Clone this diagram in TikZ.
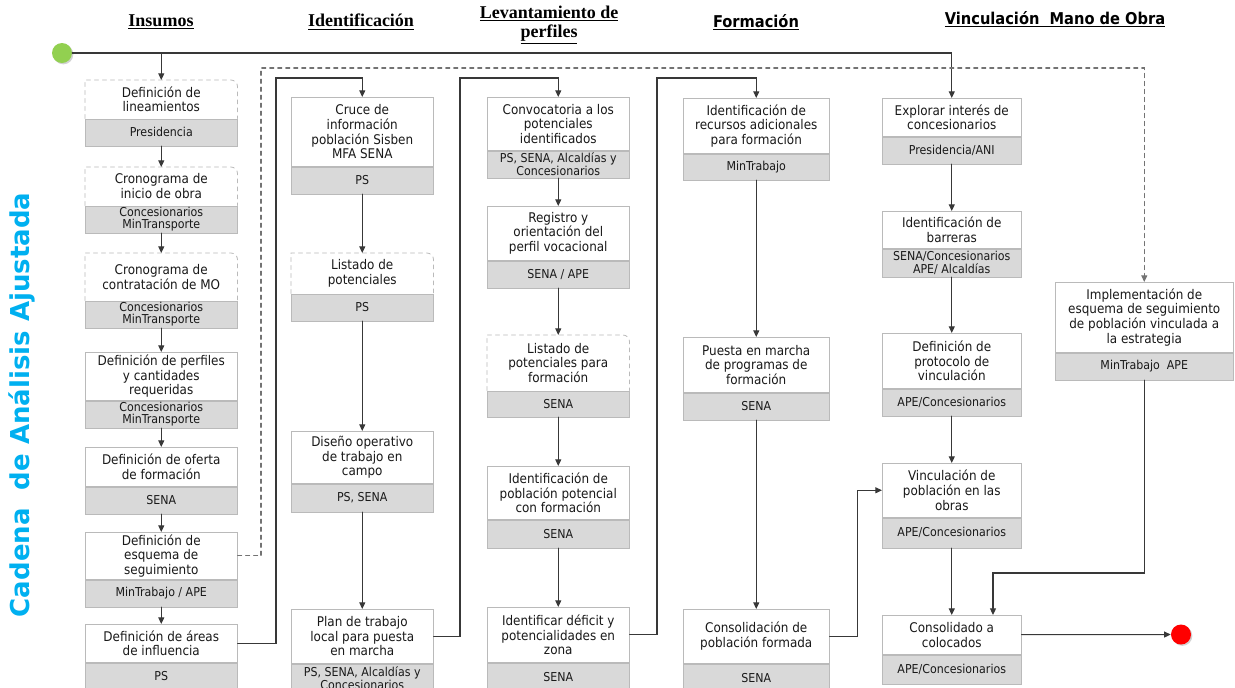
\documentclass[tikz,border=0pt]{standalone}
\usepackage{fontspec}
\setmainfont{DejaVu Sans Condensed}
\newfontfamily\titulofont{Liberation Serif}
\newfontfamily\anchafont{DejaVu Sans}
\usepackage{tikz}
\usetikzlibrary{arrows.meta}
\usetikzlibrary{shadows}
\newcommand{\pix}{0.75pt}
\definecolor{verdeinicio}{HTML}{92D050}
\definecolor{cian}{HTML}{00B0F0}

\begin{document}
\begin{tikzpicture}
	[x=0.75pt,y=-0.75pt,line cap=round,
	%Styles
	paso/.style 2 args={draw=bordegris,fill=white,anchor=north west,align=center,inner sep=1pt,
		text=textogris,minimum width=#1*\pix,minimum height=#2*\pix,font=\fontsize{10}{11}\selectfont},
	paso punteado/.style 2 args={paso={#1}{#2},draw=none},
	resp/.style 2 args={draw=bordegris,fill=respgris,anchor=north west,align=center,inner sep=1pt,
		text=textogris,minimum width=#1*\pix,minimum height=#2*\pix,font=\fontsize{9.2}{9.4}\selectfont},
	borde punteado/.style={draw=bordegris,dashed,line width=0.6pt},
	flecha/.style={draw=lineagris,line width=0.8pt,-{Triangle[length=5pt,width=4.5pt]}},
	flecha punteada/.style={flecha,draw=black!55,dashed},
	titulo/.style={align=center,font=\titulofont\bfseries\fontsize{13.5}{14}\selectfont},
	titulo sans/.style={align=center,font=\bfseries\fontsize{12.2}{13}\selectfont},
	punto/.style={circle,minimum size=15pt,inner sep=0pt,drop shadow={opacity=0.35,shadow xshift=1pt,shadow yshift=-1pt}}
	]

	%Colors
	\colorlet{bordegris}{black!27}
	\colorlet{respgris}{black!15}
	\colorlet{lineagris}{black!78}
	\colorlet{textogris}{black!90}

	\fill[white] (0,0) rectangle (1235,687);
	\useasboundingbox (0,0) rectangle (1235,687);

	%Titles
	\node[titulo] (tins) at (161,22) {\underline{Insumos}};
	\node[titulo] (tide) at (361,22) {\underline{Identificación}};
	\node[titulo] (tlev) at (549,25) {\underline{Levantamiento de}\\\underline{perfiles}};
	\node[titulo sans] (tfor) at (756,22) {\underline{Formación}};
	\node[titulo sans] (tvin) at (1055,19) {\underline{Vinculación\ \ Mano de Obra}};
	\node[rotate=90,text=cian,font=\anchafont\bfseries\fontsize{19.5}{19.5}\selectfont] (cadena) at (22,405) {Cadena\ \ de Análisis Ajustada};

	%Insumos
	\node[paso punteado={152}{38}] (lin) at (85,80) {Definición de\\lineamientos};
	\node[resp={152}{27}] (lin-r) at (lin.south west) {Presidencia};
	\node[paso punteado={152}{38}] (cio) at (85,167) {Cronograma de\\inicio de obra};
	\node[resp={152}{27}] (cio-r) at (cio.south west) {Concesionarios\\MinTransporte};
	\node[paso punteado={152}{47}] (ccm) at (85,253) {Cronograma de\\contratación de MO};
	\node[resp={152}{26}] (ccm-r) at (ccm.south west) {Concesionarios\\MinTransporte};
	\node[paso={152}{48}] (dpc) at (85,352) {Definición de perfiles\\y cantidades\\requeridas};
	\node[resp={152}{27}] (dpc-r) at (dpc.south west) {Concesionarios\\MinTransporte};
	\node[paso={152}{39}] (dof) at (85,447) {Definición de oferta\\de formación};
	\node[resp={152}{27}] (dof-r) at (dof.south west) {SENA};
	\node[paso={152}{47}] (des) at (85,532) {Definición de\\esquema de\\seguimiento};
	\node[resp={152}{27}] (des-r) at (des.south west) {MinTrabajo / APE};
	\node[paso={152}{38}] (dai) at (85,624) {Definición de áreas\\de influencia};
	\node[resp={152}{27}] (dai-r) at (dai.south west) {PS};

	%Identificacion
	\node[paso={142}{69}] (cru) at (291,97) {Cruce de\\información\\población Sisben\\MFA SENA};
	\node[resp={142}{27}] (cru-r) at (cru.south west) {PS};
	\node[paso punteado={142}{40}] (lpo) at (291,253) {Listado de\\potenciales};
	\node[resp={142}{27}] (lpo-r) at (lpo.south west) {PS};
	\node[paso={142}{52}] (dis) at (291,431) {Diseño operativo\\de trabajo en\\campo};
	\node[resp={142}{28}] (dis-r) at (dis.south west) {PS, SENA};
	\node[paso={142}{54}] (pla) at (291,609) {Plan de trabajo\\local para puesta\\en marcha};
	\node[resp={142}{29}] (pla-r) at (pla.south west) {PS, SENA, Alcaldías y\\Concesionarios};

	%Levantamiento de perfiles
	\node[paso={142}{53}] (con) at (487,97) {Convocatoria a los\\potenciales\\identificados};
	\node[resp={142}{27}] (con-r) at (con.south west) {PS, SENA, Alcaldías y\\Concesionarios};
	\node[paso={142}{54}] (reg) at (487,206) {Registro y\\orientación del\\perfil vocacional};
	\node[resp={142}{27}] (reg-r) at (reg.south west) {SENA / APE};
	\node[paso punteado={142}{55}] (lpf) at (487,335) {Listado de\\potenciales para\\formación};
	\node[resp={142}{26}] (lpf-r) at (lpf.south west) {SENA};
	\node[paso={142}{53}] (ipp) at (487,466) {Identificación de\\población potencial\\con formación};
	\node[resp={142}{28}] (ipp-r) at (ipp.south west) {SENA};
	\node[paso={142}{55}] (idp) at (487,607) {Identificar déficit y\\potencialidades en\\zona};
	\node[resp={142}{28}] (idp-r) at (idp.south west) {SENA};

	%Formacion
	\node[paso={146}{55}] (irf) at (683,98) {Identificación de\\recursos adicionales\\para formación};
	\node[resp={146}{26}] (irf-r) at (irf.south west) {MinTrabajo};
	\node[paso={146}{55}] (pmp) at (683,337) {Puesta en marcha\\de programas de\\formación};
	\node[resp={146}{27}] (pmp-r) at (pmp.south west) {SENA};
	\node[paso={146}{54}] (cpf) at (683,609) {Consolidación de\\población formada};
	\node[resp={146}{28}] (cpf-r) at (cpf.south west) {SENA};

	%Vinculacion
	\node[paso={139}{38}] (eic) at (882,98) {Explorar interés de\\concesionarios};
	\node[resp={139}{27}] (eic-r) at (eic.south west) {Presidencia/ANI};
	\node[paso={139}{37}] (ib) at (882,211) {Identificación de\\barreras};
	\node[resp={139}{28}] (ib-r) at (ib.south west) {SENA/Concesionarios\\APE/ Alcaldías};
	\node[paso={139}{55}] (dpv) at (882,333) {Definición de\\protocolo de\\vinculación};
	\node[resp={139}{27}] (dpv-r) at (dpv.south west) {APE/Concesionarios};
	\node[paso={139}{54}] (vpo) at (882,463) {Vinculación de\\población en las\\obras};
	\node[resp={139}{30}] (vpo-r) at (vpo.south west) {APE/Concesionarios};
	\node[paso={139}{39}] (cac) at (882,615) {Consolidado a\\colocados};
	\node[resp={139}{29}] (cac-r) at (cac.south west) {APE/Concesionarios};
	\node[paso={178}{70}] (imp) at (1055,282) {Implementación de\\esquema de seguimiento\\de población vinculada a\\la estrategia};
	\node[resp={178}{27}] (imp-r) at (imp.south west) {MinTrabajo\ \ APE};

	%Dashed borders
	\foreach \n in {lin,cio,ccm,lpo,lpf}
		\draw[borde punteado] (\n.south west) -- (\n.north west) -- ([xshift=-5pt]\n.north east)
			to[out=0,in=90] ([yshift=-5pt]\n.north east) -- (\n.south east);

	%Start and end
	\node[punto,fill=verdeinicio] (ini) at (62,53) {};
	\node[punto,fill=red] (fin) at (1181,634.5) {};
	\coordinate (ret) at (993,573);

	%Connectors
	\draw[flecha] (ini) -| (eic);
	\draw[flecha] (lin |- ini) -- (lin);
	\draw[flecha] (lin-r) -- (cio);
	\draw[flecha] (cio-r) -- (ccm);
	\draw[flecha] (ccm-r) -- (dpc);
	\draw[flecha] (dpc-r) -- (dof);
	\draw[flecha] (dof-r) -- (des);
	\draw[flecha] (des-r) -- (dai);
	\draw[flecha] (dai.east) -| (276,78) -| (cru);
	\draw[flecha] (cru-r) -- (lpo);
	\draw[flecha] (lpo-r) -- (dis);
	\draw[flecha] (dis-r) -- (pla);
	\draw[flecha] (pla.east) -| (460,78) -| (con);
	\draw[flecha] (con-r) -- (reg);
	\draw[flecha] (reg-r) -- (lpf);
	\draw[flecha] (lpf-r) -- (ipp);
	\draw[flecha] (ipp-r) -- (idp);
	\draw[flecha] (idp.east) -| (657,78) -| (irf);
	\draw[flecha] (irf-r) -- (pmp);
	\draw[flecha] (pmp-r) -- (cpf);
	\draw[flecha] (cpf.east) -- ++(28,0) |- (vpo);
	\draw[flecha] (eic-r) -- (ib);
	\draw[flecha] (ib-r) -- (dpv);
	\draw[flecha] (dpv-r) -- (vpo);
	\draw[flecha] (vpo-r) -- (cac);
	\draw[flecha punteada] (des.east) -| (261,68) -| (imp);
	\draw[flecha] (imp-r) |- (ret) -- (ret |- cac.north);
	\draw[flecha] (cac) -- (fin);
\end{tikzpicture}
\end{document}
